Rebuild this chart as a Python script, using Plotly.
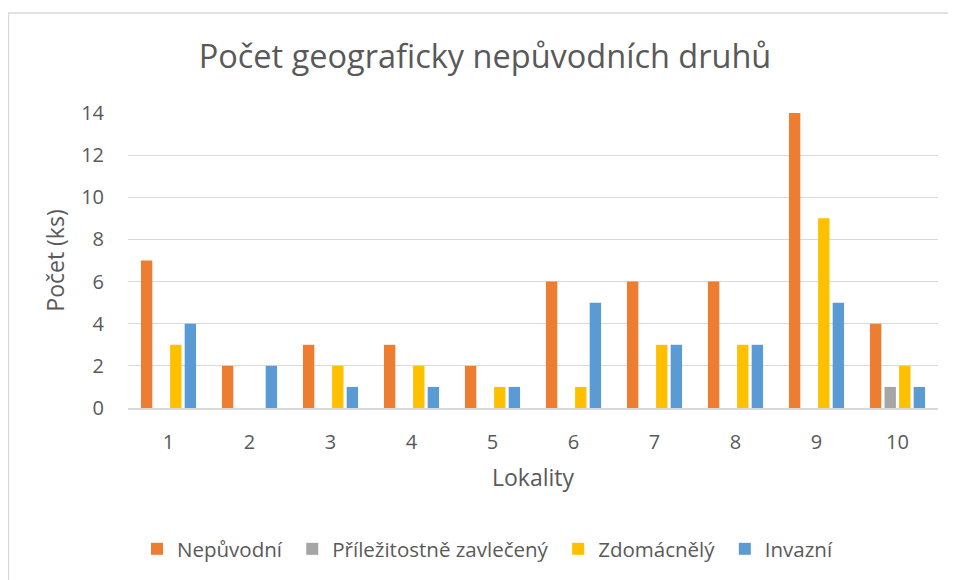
import plotly.graph_objects as go

categories = ["1", "2", "3", "4", "5", "6", "7", "8", "9", "10"]
nepuvodni = [7, 2, 3, 3, 2, 6, 6, 6, 14, 4]
prilezitostne = [0, 0, 0, 0, 0, 0, 0, 0, 0, 1]
zdomacnely = [3, 0, 2, 2, 1, 1, 3, 3, 9, 2]
invazni = [4, 2, 1, 1, 1, 5, 3, 3, 5, 1]

series = [
    ("Nepůvodní", nepuvodni, "#ED7D31"),
    ("Příležitostně zavlečený", prilezitostne, "#A5A5A5"),
    ("Zdomácnělý", zdomacnely, "#FFC000"),
    ("Invazní", invazni, "#5B9BD5"),
]

FONT = "Open Sans"
TXT = "#595959"

W, H = 948, 572
L, R, T, B = 120, 18, 105, 172
PW, PH = W - L - R, H - T - B

fig = go.Figure()
for name, vals, col in series:
    fig.add_trace(go.Bar(x=categories, y=vals, name=name + "\u00a0", marker_color=col,
                         marker_line_width=0))

fig.update_layout(
    width=W, height=H,
    paper_bgcolor="white", plot_bgcolor="white",
    margin=dict(l=L, r=R, t=T, b=B, autoexpand=False),
    barmode="group", bargap=0.28, bargroupgap=0.22,
    font=dict(family=FONT, color=TXT, size=20),
    title=dict(text="Počet geograficky nepůvodních druhů", x=477 / W, xanchor="center",
               xref="container",
               y=1 - 49 / H, yanchor="middle", yref="container",
               font=dict(family=FONT, size=32.5, color=TXT)),
    xaxis=dict(title=dict(text="Lokality", font=dict(size=23, color=TXT), standoff=16),
               automargin=False,
               showline=True, linecolor="#D9D9D9", linewidth=1.5,
               tickfont=dict(size=20, color=TXT), ticks="", ticklabelstandoff=15),
    yaxis=dict(title=dict(text="Počet (ks)", font=dict(size=23, color=TXT), standoff=10),
               automargin=False,
               range=[0, 14], dtick=2, showgrid=True, gridcolor="#D9D9D9",
               gridwidth=1.3, zeroline=False, showline=False,
               tickfont=dict(size=20, color=TXT), ticks="", ticklabelstandoff=23),
    legend=dict(orientation="h", xref="container", x=482 / W, xanchor="center",
                yref="container", y=1 - 541 / H, yanchor="middle",
                font=dict(size=20.5, color=TXT), itemwidth=30, traceorder="normal"),
    shapes=[dict(type="rect", xref="paper", yref="paper",
                 x0=(0.6 - L) / PW, x1=(W + 40 - L) / PW,
                 y0=(H - B - 620) / PH, y1=(H - B - 5) / PH,
                 line=dict(color="#D9D9D9", width=1.3), fillcolor="rgba(0,0,0,0)",
                 layer="below")],
)

fig.write_html("out.html", config={"displayModeBar": False})
